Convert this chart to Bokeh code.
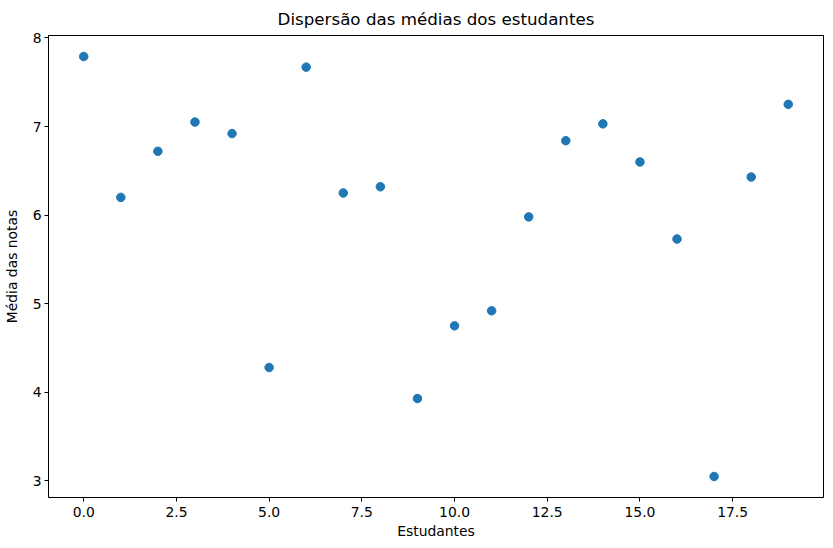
import numpy as np
from bokeh.plotting import figure
from bokeh.models import FixedTicker, Range1d, NumeralTickFormatter
from bokeh.embed import file_html
from bokeh.resources import INLINE

# Data
estudantes = list(range(20))
medias = [7.79, 6.20, 6.72, 7.05, 6.92, 4.28, 7.67, 6.25, 6.32, 3.93,
          4.75, 4.92, 5.98, 6.84, 7.03, 6.60, 5.73, 3.05, 6.43, 7.25]

x_ticks = [0.0, 2.5, 5.0, 7.5, 10.0, 12.5, 15.0, 17.5]
y_ticks = [3, 4, 5, 6, 7, 8]

FONT = "DejaVu Sans"

p = figure(
    title="Dispersão das médias dos estudantes",
    x_axis_label="Estudantes",
    y_axis_label="Média das notas",
    frame_width=775, frame_height=462,
    min_border_left=0, min_border_right=2,
    min_border_top=0, min_border_bottom=40,
    output_backend="svg", toolbar_location=None,
    x_range=Range1d(-0.95, 19.95), y_range=Range1d(2.813, 8.027),
)

p.scatter(estudantes, medias, size=8.5, color="#1f77b4", line_color="#1f77b4")

# matplotlib-like styling
p.grid.visible = False
p.outline_line_color = "black"
p.outline_line_width = 1
p.background_fill_color = "white"
p.border_fill_color = "white"

p.title.align = "center"
p.title.text_font = FONT
p.title.text_font_style = "normal"
p.title.text_font_size = "16.7px"
p.title.text_color = "black"
p.title.offset = 0
p.title.standoff = 13

for ax in (p.xaxis, p.yaxis):
    ax.axis_label_text_font = FONT
    ax.axis_label_text_font_style = "normal"
    ax.axis_label_text_font_size = "13.9px"
    ax.axis_label_text_color = "black"
    ax.major_label_text_font = FONT
    ax.major_label_text_font_size = "13.9px"
    ax.major_label_text_color = "black"
    ax.minor_tick_line_color = None
    ax.major_tick_out = 4
    ax.major_tick_in = 0
    ax.axis_line_color = None
    ax.major_tick_line_color = "black"

p.xaxis.ticker = FixedTicker(ticks=x_ticks)
p.xaxis.formatter = NumeralTickFormatter(format="0.0")
p.yaxis.ticker = FixedTicker(ticks=y_ticks)
p.yaxis.major_label_standoff = 3
p.xaxis.axis_label_standoff = 3
p.yaxis.axis_label_standoff = 10

open("out.html", "w").write(file_html(p, INLINE))
